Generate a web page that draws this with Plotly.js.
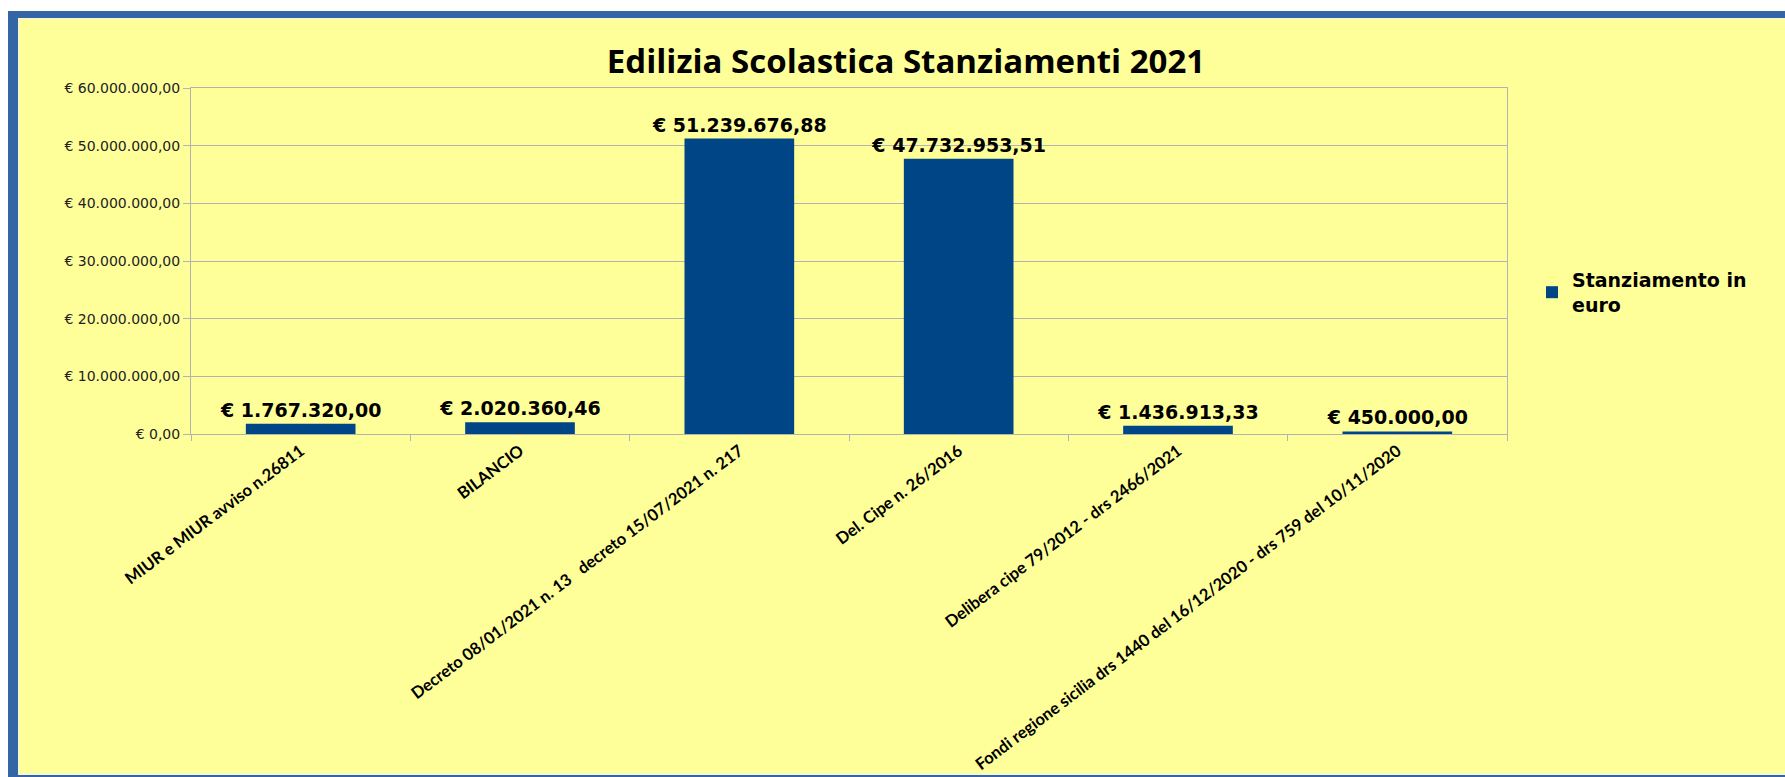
<!DOCTYPE html>
<html>
<head>
<meta charset="utf-8">
<script src="https://cdn.plot.ly/plotly-3.0.1.min.js"></script>
<style>
  html, body { margin: 0; padding: 0; background: #ffffff; }
  #chart { width: 1785px; height: 777px; }
</style>
</head>
<body>
<div id="chart"></div>
<script>
// ---- Data ----
const categories = [
  "MIUR e MIUR avviso n.26811",
  "BILANCIO",
  "Decreto 08/01/2021 n. 13\u00a0\u00a0 decreto 15/07/2021 n. 217",
  "Del. Cipe n. 26/2016",
  "Delibera cipe 79/2012 - drs 2466/2021",
  "Fondi regione sicilia drs 1440 del 16/12/2020 - drs 759 del 10/11/2020"
];
const stanziamenti = [1767320.00, 2020360.46, 51239676.88, 47732953.51, 1436913.33, 450000.00];
const seriesName = "Stanziamento in<br>euro";
const chartTitle = "Edilizia Scolastica Stanziamenti 2021";
const yTickValues = [0, 10000000, 20000000, 30000000, 40000000, 50000000, 60000000];

// ---- Formatting (Italian euro format) ----
function euro(v) {
  const fixed = v.toFixed(2);
  const parts = fixed.split(".");
  const intPart = parts[0].replace(/\B(?=(\d{3})+(?!\d))/g, ".");
  return "€ " + intPart + "," + parts[1];
}
const yTickText = yTickValues.map(euro);
const barLabels = stanziamenti.map(euro);

// ---- Geometry helpers (pixel -> paper) ----
const W = 1785, H = 777;
const M = { l: 191, r: 278, t: 88, b: 343 };
const PW = W - M.l - M.r, PH = H - M.t - M.b;
const px = x => (x - M.l) / PW;
const py = y => (H - M.b - y) / PH;

const trace = {
  type: "bar",
  x: categories,
  y: stanziamenti,
  name: seriesName,
  marker: { color: "#004586" },
  text: barLabels,
  textposition: "outside",
  constraintext: "none",
  cliponaxis: false,
  textfont: { family: "DejaVu Sans, Verdana, sans-serif", size: 19, color: "#000000", weight: 700 },
  hoverinfo: "x+y",
  showlegend: true
};

const layout = {
  width: W,
  height: H,
  margin: M,
  paper_bgcolor: "#ffffff",
  plot_bgcolor: "rgba(0,0,0,0)",
  bargap: 0.5,
  showlegend: true,
  title: {
    text: chartTitle,
    font: { family: "'Open Sans', Lato, sans-serif", size: 33, color: "#000000", weight: 700 },
    xref: "container",
    x: 906 / W,
    xanchor: "center",
    yref: "container",
    y: (H - 61) / H,
    yanchor: "middle"
  },
  legend: {
    x: px(1532),
    xanchor: "left",
    y: py(261),
    yanchor: "top",
    bgcolor: "rgba(0,0,0,0)",
    font: { family: "DejaVu Sans, Verdana, sans-serif", size: 19, color: "#000000", weight: 700 }
  },
  xaxis: {
    type: "category",
    tickangle: -37,
    tickson: "boundaries",
    ticks: "outside",
    ticklen: 6,
    tickcolor: "#b3b3b3",
    showline: true,
    linecolor: "#b3b3b3",
    linewidth: 1,
    mirror: true,
    showgrid: false,
    tickfont: { family: "Lato, 'Open Sans', sans-serif", size: 16.5, color: "#000000", weight: 700 },
    automargin: false
  },
  yaxis: {
    range: [0, 60000000],
    tickmode: "array",
    tickvals: yTickValues,
    ticktext: yTickText,
    ticks: "outside",
    ticklen: 7,
    tickcolor: "#b3b3b3",
    showline: true,
    linecolor: "#b3b3b3",
    linewidth: 1,
    mirror: true,
    showgrid: true,
    gridcolor: "#b3b3b3",
    gridwidth: 1,
    zeroline: false,
    tickfont: { family: "DejaVu Sans, Verdana, sans-serif", size: 14, color: "#222222" },
    automargin: false
  },
  shapes: [
    { type: "rect", xref: "paper", yref: "paper", layer: "below",
      x0: px(8), x1: px(1800), y0: py(11), y1: py(790),
      fillcolor: "#3465a4", line: { width: 0 } },
    { type: "rect", xref: "paper", yref: "paper", layer: "below",
      x0: px(18), x1: px(1800), y0: py(18), y1: py(775),
      fillcolor: "#f4f4e0", line: { width: 0 } },
    { type: "rect", xref: "paper", yref: "paper", layer: "below",
      x0: px(19), x1: px(1800), y0: py(19), y1: py(773.5),
      fillcolor: "#ffff99", line: { width: 0 } }
  ]
};

Plotly.newPlot("chart", [trace], layout, { displayModeBar: false, staticPlot: true });
</script>
</body>
</html>
